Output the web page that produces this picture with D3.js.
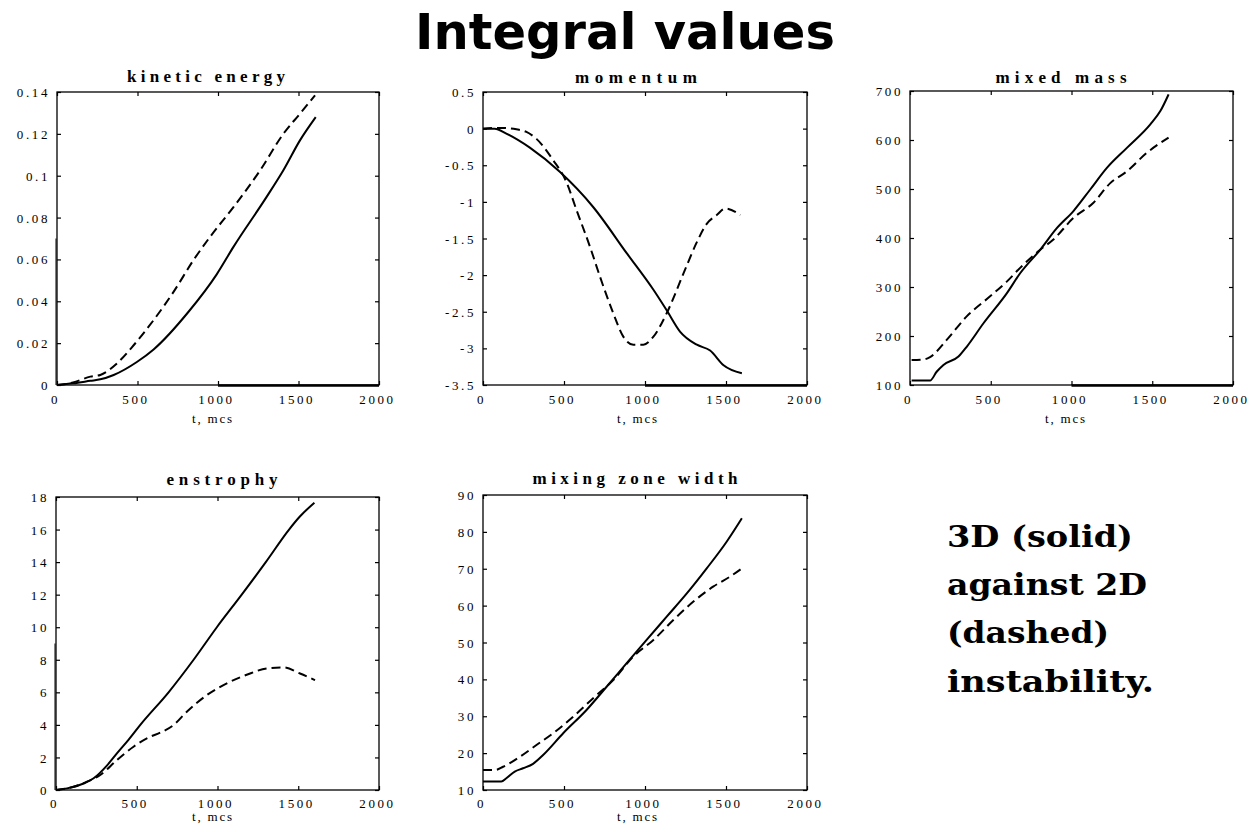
<!DOCTYPE html>
<html>
<head>
<meta charset="utf-8">
<script src="https://cdn.jsdelivr.net/npm/d3@7"></script>
<style>
  html, body { margin: 0; padding: 0; background: #fff; }
  svg { display: block; }
</style>
</head>
<body>
<svg id="chart" width="1258" height="832"></svg>
<script>
// ---- data: [time (mcs), value] ----
const timeTicks = [0, 500, 1000, 1500, 2000];

const kineticTicks = [0, 0.02, 0.04, 0.06, 0.08, 0.1, 0.12, 0.14];
const kinetic3D = [[0,0],[100,0.0008],[207,0.002],[269,0.0027],[352,0.0048],[496,0.011],[600,0.017],[817,0.035],[993,0.053],[1096,0.066],[1303,0.090],[1406,0.1026],[1510,0.117],[1607,0.128]];
const kinetic2D = [[0,0],[100,0.0012],[207,0.004],[269,0.0048],[372,0.0103],[476,0.019],[600,0.031],[724,0.0445],[848,0.0597],[951,0.0708],[1096,0.085],[1262,0.1026],[1406,0.120],[1510,0.1297],[1603,0.1384]];

const momentumTicks = [0.5, 0, -0.5, -1, -1.5, -2, -2.5, -3, -3.5];
const momentum3D = [[0,0],[72,0],[144,-0.068],[289,-0.26],[474,-0.59],[680,-1.07],[887,-1.70],[1052,-2.2],[1134,-2.48],[1216,-2.77],[1320,-2.95],[1402,-3.03],[1485,-3.23],[1598,-3.34]];
const momentum2D = [[0,0],[103,0.01],[206,-0.01],[268,-0.045],[330,-0.14],[433,-0.43],[515,-0.73],[577,-1.11],[660,-1.61],[722,-2.02],[804,-2.52],[866,-2.84],[928,-2.95],[990,-2.95],[1052,-2.84],[1134,-2.52],[1237,-1.98],[1320,-1.55],[1381,-1.30],[1443,-1.18],[1495,-1.09],[1588,-1.18]];

const massTicks = [100, 200, 300, 400, 500, 600, 700];
const mass3D = [[10,109],[124,109],[165,127],[207,141],[300,158],[351,178],[455,226],[599,287],[682,328],[806,376],[909,420],[1012,455],[1116,499],[1219,543],[1343,584],[1488,632],[1550,659],[1601,693]];
const mass2D = [[10,151],[83,152],[124,157],[227,192],[351,240],[496,281],[599,311],[682,339],[806,376],[888,397],[1012,441],[1136,472],[1240,512],[1343,536],[1467,574],[1601,605]];

const enstrophyTicks = [0, 2, 4, 6, 8, 10, 12, 14, 16, 18];
const enstrophy3D = [[0,0],[68,0.1],[171,0.4],[233,0.72],[315,1.5],[377,2.25],[450,3.1],[522,4],[697,6],[852,8],[996,10],[1150,12],[1299,14],[1443,16],[1510,16.8],[1600,17.65]];
const enstrophy2D = [[0,0],[109,0.2],[192,0.51],[274,0.92],[377,1.84],[480,2.66],[583,3.27],[645,3.52],[728,3.99],[810,4.81],[934,5.83],[1058,6.55],[1202,7.16],[1305,7.47],[1408,7.53],[1511,7.16],[1604,6.75]];

const widthTicks = [10, 20, 30, 40, 50, 60, 70, 80, 90];
const width3D = [[0,12.3],[113,12.3],[144,13.2],[196,15],[247,15.9],[309,17.1],[371,19.5],[495,25.4],[639,31.7],[763,38.0],[887,44.4],[1010,50.7],[1134,57.0],[1258,63.3],[1381,70.1],[1505,77.4],[1598,83.7]];
const width2D = [[0,15.4],[72,15.4],[124,16.3],[227,19.0],[330,22.2],[433,25.4],[557,29.9],[680,34.9],[804,39.8],[928,46.2],[1052,50.7],[1175,56.1],[1299,61.1],[1423,65.2],[1526,67.9],[1598,70.1]];

const panelTitles = ["kinetic energy", "momentum", "mixed mass", "enstrophy", "mixing zone width"];
const axisLabel = "t, mcs";
const mainTitle = "Integral values";
const noteLines = ["3D (solid)", "against 2D", "(dashed)", "instability."];

// ---- layout ----
const panels = [
  { title: panelTitles[0], ticks: kineticTicks,   solid: kinetic3D,   dashed: kinetic2D,
    box: [57, 379, 92, 385],  titleX: 206, titleY: 82,  titleW: 158, labelX: 212, labelY: 423, tickY: 404,
    thickBottom: true, leftMark: 0.07 },
  { title: panelTitles[1], ticks: momentumTicks,  solid: momentum3D,  dashed: momentum2D,
    box: [483, 807, 92, 385], titleX: 636, titleY: 83,  titleW: 122, labelX: 637, labelY: 423, tickY: 404,
    thickBottom: true },
  { title: panelTitles[2], ticks: massTicks,      solid: mass3D,      dashed: mass2D,
    box: [910, 1233, 91, 385], titleX: 1061, titleY: 83, titleW: 131, labelX: 1065, labelY: 423, tickY: 404,
    thickBottom: true },
  { title: panelTitles[3], ticks: enstrophyTicks, solid: enstrophy3D, dashed: enstrophy2D,
    box: [56, 379, 497, 790], titleX: 222, titleY: 485, titleW: 111, labelX: 212, labelY: 821, tickY: 808,
    leftMark: 9 },
  { title: panelTitles[4], ticks: widthTicks,     solid: width3D,     dashed: width2D,
    box: [483, 807, 495, 790], titleX: 635, titleY: 484, titleW: 205, labelX: 637, labelY: 821, tickY: 808 }
];

const svg = d3.select("#chart");
svg.append("rect").attr("width", 1258).attr("height", 832).attr("fill", "#fff");

svg.append("text")
  .attr("x", 415).attr("y", 49)
  .attr("font-family", "DejaVu Sans").attr("font-weight", "bold")
  .attr("font-size", 49)
  .attr("textLength", 420).attr("lengthAdjust", "spacingAndGlyphs")
  .attr("fill", "#000")
  .text(mainTitle);

const tickFont = "Liberation Serif";
const TICK = 4;

panels.forEach(p => {
  const [x0, x1, y0, y1] = p.box;
  const ext = d3.extent(p.ticks);
  const x = d3.scaleLinear().domain([0, 2000]).range([x0, x1]);
  const y = d3.scaleLinear().domain(ext).range([y1, y0]);
  const g = svg.append("g");

  // frame
  g.append("rect")
    .attr("x", x0).attr("y", y0).attr("width", x1 - x0).attr("height", y1 - y0)
    .attr("fill", "none").attr("stroke", "#000").attr("stroke-width", 1.3);

  // bottom axis: inward ticks + labels
  const bottom = d3.axisBottom(x).tickValues(timeTicks).tickSizeInner(-TICK).tickSizeOuter(0).tickFormat(d3.format("d"));
  const bAx = g.append("g").attr("transform", `translate(0,${y1})`).call(bottom);
  bAx.select(".domain").remove();
  bAx.selectAll("line").attr("stroke", "#000").attr("stroke-width", 1.2);
  bAx.selectAll("text")
    .attr("y", p.tickY - y1).attr("dy", 0).attr("dx", -2)
    .attr("font-family", tickFont).attr("font-size", 13)
    .attr("letter-spacing", 2.6).attr("fill", "#000");

  // top axis ticks (no labels)
  const tAx = g.append("g").attr("transform", `translate(0,${y0})`)
    .call(d3.axisTop(x).tickValues(timeTicks).tickSizeInner(-TICK).tickSizeOuter(0).tickFormat(""));
  tAx.select(".domain").remove();
  tAx.selectAll("line").attr("stroke", "#000").attr("stroke-width", 1.2);

  // left axis: inward ticks + labels
  const lAx = g.append("g").attr("transform", `translate(${x0},0)`)
    .call(d3.axisLeft(y).tickValues(p.ticks).tickSizeInner(-TICK).tickSizeOuter(0).tickFormat(d => String(d)));
  lAx.select(".domain").remove();
  lAx.selectAll("line").attr("stroke", "#000").attr("stroke-width", 1.2);
  lAx.selectAll("text")
    .attr("x", -7).attr("dy", "0.35em")
    .attr("font-family", tickFont).attr("font-size", 13)
    .attr("letter-spacing", 2.6).attr("fill", "#000");

  // right axis ticks
  const rAx = g.append("g").attr("transform", `translate(${x1},0)`)
    .call(d3.axisRight(y).tickValues(p.ticks).tickSizeInner(-TICK).tickSizeOuter(0).tickFormat(""));
  rAx.select(".domain").remove();
  rAx.selectAll("line").attr("stroke", "#000").attr("stroke-width", 1.2);

  // heavier stroke on the right half of the time axis
  if (p.thickBottom) {
    g.append("line")
      .attr("x1", x(1000)).attr("x2", x(2000)).attr("y1", y1 + 0.5).attr("y2", y1 + 0.5)
      .attr("stroke", "#000").attr("stroke-width", 2.4);
  }
  // doubled stroke on the lower part of the value axis
  if (p.leftMark !== undefined) {
    g.append("line")
      .attr("x1", x0 - 1).attr("x2", x0 - 1).attr("y1", y(p.leftMark)).attr("y2", y1)
      .attr("stroke", "#000").attr("stroke-width", 1);
  }

  // series
  const line = d3.line().x(d => x(d[0])).y(d => y(d[1])).curve(d3.curveMonotoneX);
  g.append("path").datum(p.dashed).attr("d", line)
    .attr("fill", "none").attr("stroke", "#000").attr("stroke-width", 2)
    .attr("stroke-dasharray", "9,5");
  g.append("path").datum(p.solid).attr("d", line)
    .attr("fill", "none").attr("stroke", "#000").attr("stroke-width", 2);

  // panel title
  g.append("text")
    .attr("x", p.titleX).attr("y", p.titleY).attr("text-anchor", "middle")
    .attr("font-family", "Liberation Serif").attr("font-weight", "bold").attr("font-size", 17)
    .attr("textLength", p.titleW).attr("lengthAdjust", "spacing")
    .attr("fill", "#000")
    .text(p.title);

  // time axis label
  g.append("text")
    .attr("x", p.labelX).attr("y", p.labelY).attr("text-anchor", "middle")
    .attr("font-family", tickFont).attr("font-size", 13)
    .attr("textLength", 40).attr("lengthAdjust", "spacing")
    .attr("fill", "#000")
    .text(axisLabel);
});

// side note
const noteWidths = [186, 200, 162, 207];
const noteBase = [547, 595, 643, 692];
noteLines.forEach((s, i) => {
  svg.append("text")
    .attr("x", 947).attr("y", noteBase[i])
    .attr("font-family", "DejaVu Serif").attr("font-weight", "bold").attr("font-size", 29)
    .attr("textLength", noteWidths[i]).attr("lengthAdjust", "spacingAndGlyphs")
    .attr("fill", "#000")
    .text(s);
});
</script>
</body>
</html>
